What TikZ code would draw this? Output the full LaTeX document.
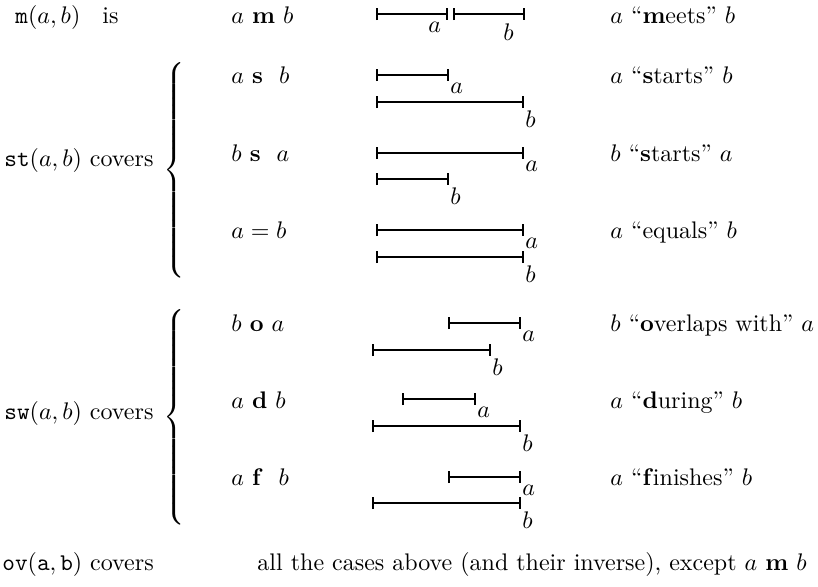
\documentclass[tikz,border=0pt]{standalone}
\usetikzlibrary{arrows.meta}
\begin{document}
\begin{tikzpicture}[x=0.41667pt,y=-0.41667pt,
  bar/.style={line width=0.8pt,{Bar[width=5pt]}-{Bar[width=5pt]}},
  lbl/.style={anchor=north west,inner sep=0pt},
  txt/.style={anchor=base west,inner sep=0pt},
  brc/.style={inner sep=0pt}]
\useasboundingbox (0,0) rectangle (818,586);
% row m
\node[txt] (l0) at (15,23) {$\mathtt{m}(a,b)$};
\node[txt] (is) at (102,23) {is};
\node[txt] (m0) at (231,23) {$a$ $\mathbf{m}$ $b$};
\draw[bar] (376,14) -- (448,14);
\draw[bar] (453,14) -- (525,14);
\node[lbl] (ma) at (428,22) {$a$};
\node[lbl] (mb) at (503,23) {$b$};
\node[txt] (r0) at (610,23) {$a$ ``\textbf{m}eets'' $b$};
% st
\node[txt] (l1) at (4,166) {$\mathtt{st}(a,b)$ covers};
\node[brc] (br1) at (175.5,170.5) {$\left\{\vcenter{\hrule height 94pt width 0pt}\right.$};
\node[txt] (m1) at (231,83) {$a$ \textbf{s} \ $b$};
\draw[bar] (376,75) -- (449,75); \node[lbl] (a1) at (450,83) {$a$};
\draw[bar] (376,102) -- (524,102); \node[lbl] (b1) at (525,110) {$b$};
\node[txt] (r1) at (610,83) {$a$ ``\textbf{s}tarts'' $b$};
\node[txt] (m2) at (231,161) {$b$ \textbf{s} \ $a$};
\draw[bar] (376,153) -- (524,153); \node[lbl] (a2) at (525,161) {$a$};
\draw[bar] (376,179) -- (449,179); \node[lbl] (b2) at (450,187) {$b$};
\node[txt] (r2) at (610,161) {$b$ ``\textbf{s}tarts'' $a$};
\node[txt] (m3) at (231,238) {$a=b$};
\draw[bar] (376,230) -- (524,230); \node[lbl] (a3) at (525,238) {$a$};
\draw[bar] (376,257) -- (524,257); \node[lbl] (b3) at (525,265) {$b$};
\node[txt] (r3) at (610,238) {$a$ ``equals'' $b$};
% sw
\node[txt] (l2) at (4,419) {$\mathtt{sw}(a,b)$ covers};
\node[brc] (br2) at (175.5,417.5) {$\left\{\vcenter{\hrule height 94pt width 0pt}\right.$};
\node[txt] (m4) at (231,331) {$b$ $\mathbf{o}$ $a$};
\draw[bar] (448,323) -- (521,323); \node[lbl] (a4) at (522,331) {$a$};
\draw[bar] (372,350) -- (491,350); \node[lbl] (b4) at (492,358) {$b$};
\node[txt] (r4) at (610,331) {$b$ ``\textbf{o}verlaps with'' $a$};
\node[txt] (m5) at (231,408) {$a$ $\mathbf{d}$ $b$};
\draw[bar] (402,399) -- (476,399); \node[lbl] (a5) at (477,407) {$a$};
\draw[bar] (372,426) -- (521,426); \node[lbl] (b5) at (522,434) {$b$};
\node[txt] (r5) at (610,408) {$a$ ``\textbf{d}uring'' $b$};
\node[txt] (m6) at (231,485) {$a$ \textbf{f} \ $b$};
\draw[bar] (448,477) -- (521,477); \node[lbl] (a6) at (522,485) {$a$};
\draw[bar] (372,503) -- (521,503); \node[lbl] (b6) at (522,511) {$b$};
\node[txt] (r6) at (610,485) {$a$ ``\textbf{f}inishes'' $b$};
% bottom
\node[txt] (l3) at (2,570) {$\mathtt{ov}(\mathtt{a},\mathtt{b})$ covers};
\node[txt] (m7) at (257,570) {all the cases above (and their inverse), except $a$ $\mathbf{m}$ $b$};
\end{tikzpicture}
\end{document}
